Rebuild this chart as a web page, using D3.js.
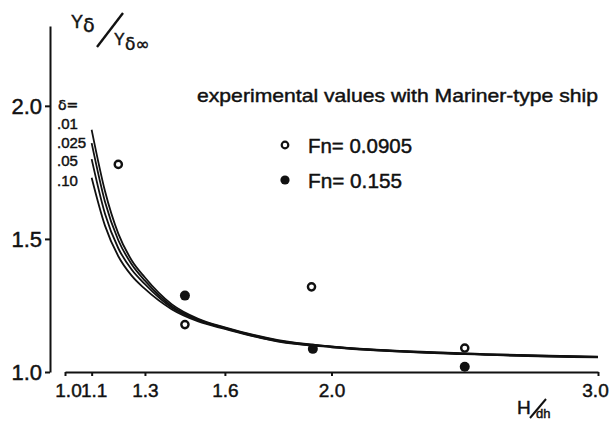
<!DOCTYPE html>
<html><head><meta charset="utf-8">
<script src="https://cdn.jsdelivr.net/npm/d3@7"></script>
<style>
html,body{margin:0;padding:0;background:#fff;}
svg{display:block;}
text{font-family:"Liberation Sans",Arial,sans-serif;fill:#111;stroke:#111;stroke-width:0.45px;}
</style></head>
<body>
<svg id="chart" width="612" height="422"></svg>
<script>
// ---- data ----
const hValues   = [1.1, 1.15, 1.2, 1.25, 1.3, 1.4, 1.5, 1.6, 1.8, 2.0, 2.5, 3.0];
const curve01   = [1.91, 1.68, 1.52, 1.42, 1.355, 1.255, 1.200, 1.168, 1.120, 1.096, 1.070, 1.058];
const curve025  = [1.86, 1.64, 1.495, 1.405, 1.343, 1.248, 1.197, 1.166, 1.118, 1.095, 1.069, 1.057];
const curve05   = [1.80, 1.595, 1.465, 1.385, 1.330, 1.242, 1.194, 1.164, 1.116, 1.094, 1.068, 1.056];
const curve10   = [1.73, 1.55, 1.435, 1.362, 1.312, 1.236, 1.190, 1.162, 1.114, 1.093, 1.067, 1.055];
const deltaLabels = [".01", ".025", ".05", ".10"];
const openX  = [1.2, 1.45, 1.925, 2.5];     // Fn = 0.0905
const openY  = [1.78, 1.178, 1.32, 1.09];
const fillX  = [1.45, 1.93, 2.5];           // Fn = 0.155
const fillY  = [1.287, 1.087, 1.02];
const xTicks = [1.0, 1.1, 1.3, 1.6, 2.0, 3.0];
const yTicks = [1.0, 1.5, 2.0];
const legendLabels = ["Fn= 0.0905", "Fn= 0.155"];

// ---- scales ----
const svg = d3.select("#chart");
const x = d3.scaleLinear().domain([1.0, 3.0]).range([65, 598]);
const y = d3.scaleLinear().domain([1.0, 2.3]).range([372, 26]);

// axes
const yAxis = d3.axisLeft(y).tickValues(yTicks).tickFormat(d3.format(".1f"))
  .tickSize(5).tickSizeOuter(0).tickPadding(3);
const gy = svg.append("g").attr("transform", "translate(50,0)").call(yAxis);
gy.select(".domain").attr("stroke", "#111").attr("stroke-width", 2);
gy.selectAll(".tick line").attr("stroke", "#111").attr("stroke-width", 2);
gy.selectAll(".tick text").style("font-size", "22px").style("font-family", "Liberation Sans, Arial, sans-serif")
  .attr("fill", "#111").attr("dy", "0.36em");

const xAxis = d3.axisBottom(x).tickValues(xTicks).tickFormat(d3.format(".1f"))
  .tickSize(4).tickSizeOuter(0).tickPadding(8);
const gx = svg.append("g").attr("transform", `translate(0,${y(1.0)})`).call(xAxis);
gx.select(".domain").attr("stroke", "#111").attr("stroke-width", 2);
gx.selectAll(".tick line").attr("stroke", "#111").attr("stroke-width", 2);
gx.selectAll(".tick text").style("font-size", "19px").style("font-family", "Liberation Sans, Arial, sans-serif")
  .attr("fill", "#111");
gx.selectAll(".tick text").filter(d => d === 1.0).attr("dx", 3);
gx.selectAll(".tick text").filter(d => d === 1.1).attr("dx", 2);
gx.selectAll(".tick text").filter(d => d === 3.0).attr("dx", -3);

// curves
const line = d3.line().x(d => x(d[0])).y(d => y(d[1])).curve(d3.curveMonotoneX);
[curve01, curve025, curve05, curve10].forEach(c => {
  svg.append("path")
    .attr("d", line(hValues.map((h, i) => [h, c[i]])))
    .attr("fill", "none").attr("stroke", "#111").attr("stroke-width", 1.8);
});

// points
svg.selectAll("circle.open").data(openX.map((v, i) => [v, openY[i]])).enter()
  .append("circle").attr("class", "open")
  .attr("cx", d => x(d[0])).attr("cy", d => y(d[1])).attr("r", 3.6)
  .attr("fill", "#fff").attr("stroke", "#111").attr("stroke-width", 2.4);
svg.selectAll("circle.fill").data(fillX.map((v, i) => [v, fillY[i]])).enter()
  .append("circle").attr("class", "fill")
  .attr("cx", d => x(d[0])).attr("cy", d => y(d[1])).attr("r", 5)
  .attr("fill", "#111");

// y-axis title  Yδ / Yδ∞
svg.append("text").attr("x", 71).attr("y", 28).style("font-size", "18px").text("Y");
svg.append("text").attr("x", 83).attr("y", 32).style("font-size", "19px")
  .style("font-family", "DejaVu Sans, sans-serif").text("δ");
svg.append("line").attr("x1", 97).attr("y1", 47).attr("x2", 123).attr("y2", 13)
  .attr("stroke", "#111").attr("stroke-width", 2.4);
svg.append("text").attr("x", 114).attr("y", 45).style("font-size", "16px").text("Y");
svg.append("text").attr("x", 125).attr("y", 50).style("font-size", "17px")
  .style("font-family", "DejaVu Sans, sans-serif").text("δ∞");

// delta labels
svg.append("text").attr("x", 58).attr("y", 110).style("font-size", "14px")
  .style("font-family", "DejaVu Sans, sans-serif").text("δ=");
const labY = [129, 148, 166, 186];
deltaLabels.forEach((t, i) => {
  svg.append("text").attr("x", 57).attr("y", labY[i]).style("font-size", "15px").text(t);
});

// legend
svg.append("text").attr("x", 197).attr("y", 102).style("font-size", "19px")
  .attr("textLength", 401).attr("lengthAdjust", "spacingAndGlyphs")
  .text("experimental values with Mariner-type ship");
svg.append("circle").attr("cx", 285).attr("cy", 145).attr("r", 3.3)
  .attr("fill", "#fff").attr("stroke", "#111").attr("stroke-width", 2.2);
svg.append("circle").attr("cx", 285).attr("cy", 180).attr("r", 4.6).attr("fill", "#111");
svg.append("text").attr("x", 308).attr("y", 153).style("font-size", "20px")
  .attr("textLength", 104).attr("lengthAdjust", "spacingAndGlyphs").text(legendLabels[0]);
svg.append("text").attr("x", 308).attr("y", 188).style("font-size", "20px")
  .attr("textLength", 94).attr("lengthAdjust", "spacingAndGlyphs").text(legendLabels[1]);

// x-axis title H/dh
svg.append("text").attr("x", 517).attr("y", 414).style("font-size", "19px").text("H");
svg.append("line").attr("x1", 530).attr("y1", 418).attr("x2", 546).attr("y2", 399)
  .attr("stroke", "#111").attr("stroke-width", 2);
svg.append("text").attr("x", 536).attr("y", 418).style("font-size", "13px").text("dh");
</script>
</body></html>
